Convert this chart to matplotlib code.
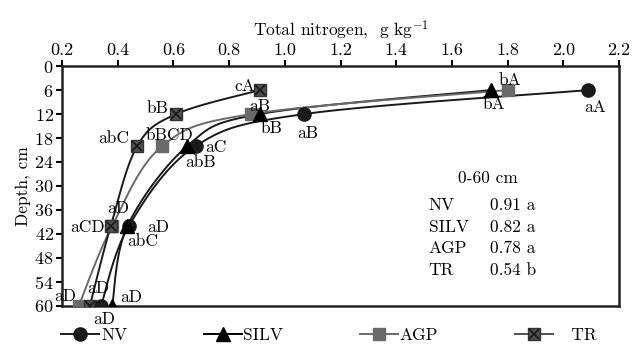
import matplotlib
matplotlib.use("Agg")
import matplotlib.pyplot as plt
import numpy as np

plt.rcParams['font.family'] = ['cmr10', 'DejaVu Serif']
plt.rcParams['mathtext.fontset'] = 'cm'
plt.rcParams['axes.formatter.use_mathtext'] = True

depth = [6, 12, 20, 40, 60]
nv = [2.09, 1.07, 0.68, 0.44, 0.34]
silv = [1.74, 0.91, 0.65, 0.435, 0.38]
agp = [1.80, 0.88, 0.56, 0.38, 0.26]
tr = [0.91, 0.61, 0.47, 0.375, 0.30]

nv_lab = ['aA', 'aB', 'aC', 'aD', 'aD']
silv_lab = ['bA', 'bB', 'abB', 'abC', 'aD']
agp_lab = ['bA', 'aB', 'bBCD', 'aCD', 'aD']
tr_lab = ['cA', 'bB', 'abC', 'aD', 'aD']

box_names = ['NV', 'SILV', 'AGP', 'TR']
box_vals = ['0.91 a', '0.82 a', '0.78 a', '0.54 b']

# label offsets in pixels (dx, dy), y up
nv_off = [(7, -17), (3, -19), (20, -1), (29, -1), (3, -13)]
silv_off = [(3, -14), (12, -14), (13, -16), (15, -15), (19, 9)]
agp_off = [(2, 10), (8, 8), (7, 11), (-25, -1), (-13, 10)]
tr_off = [(-15, 4), (-19, 6), (-23, 8), (7, 18), (8, 18)]


def smooth(x, y, n=30):
    # catmull-rom through points, in roughly pixel-scaled space
    sx, sy = 278.75, 4.0
    p = np.column_stack([np.asarray(x) * sx, np.asarray(y) * sy])
    p = np.vstack([p[0], p, p[-1]])
    out = []
    for i in range(1, len(p) - 2):
        p0, p1, p2, p3 = p[i - 1], p[i], p[i + 1], p[i + 2]
        t = np.linspace(0, 1, n)[:, None]
        c = 0.5 * (2 * p1 + (-p0 + p2) * t + (2 * p0 - 5 * p1 + 4 * p2 - p3) * t ** 2
                   + (-p0 + 3 * p1 - 3 * p2 + p3) * t ** 3)
        out.append(c)
    c = np.vstack(out)
    return c[:, 0] / sx, c[:, 1] / sy


fig = plt.figure(figsize=(6.33, 3.46), dpi=100)
ax = fig.add_axes([0.098, 0.116, 0.88, 0.693])

black = '#1a1a1a'
gray = '#6a6a6a'
dgray = '#505050'

for xs, col in [(nv, black), (silv, black), (agp, gray), (tr, black)]:
    sx, sy = smooth(xs, depth)
    ax.plot(sx, sy, color=col, lw=1.4, zorder=2)

ax.plot(nv, depth, 'o', color=black, ms=9.5, zorder=4)
ax.plot(silv, depth, '^', color='black', ms=9.5, zorder=4)
ax.plot(agp, depth, 's', color=gray, ms=8.5, zorder=3)
ax.plot(tr, depth, 's', color=dgray, mec='#333333', ms=9, zorder=3)
ax.plot(tr, depth, 'x', color=black, ms=7, mew=1.3, zorder=3)

for xs, labs, offs in [(nv, nv_lab, nv_off), (silv, silv_lab, silv_off),
                       (agp, agp_lab, agp_off), (tr, tr_lab, tr_off)]:
    for x, d, lab, (dx, dy) in zip(xs, depth, labs, offs):
        ax.annotate(lab, (x, d), xytext=(dx * 0.72, dy * 0.72), textcoords='offset points',
                    ha='center', va='center', fontsize=12.5, clip_on=False, zorder=5)

ax.set_xlim(0.2, 2.2)
ax.set_ylim(60, 0)
ax.set_xticks(np.arange(0.2, 2.21, 0.2))
ax.set_xticklabels(['%.1f' % v for v in np.arange(0.2, 2.21, 0.2)])
ax.set_yticks(range(0, 61, 6))
ax.xaxis.tick_top()
ax.xaxis.set_label_position('top')
ax.tick_params(labelsize=13, width=1.5, length=4, pad=2)
for s in ax.spines.values():
    s.set_linewidth(1.8)
    s.set_color('#222222')
ax.set_xlabel('Total nitrogen,  g kg$^{-1}$', fontsize=12.5, labelpad=5)
ax.set_ylabel('Depth, cm', fontsize=12.5, labelpad=2)

# summary text
ax.text(0.765, 0.53, '0-60 cm', transform=ax.transAxes, ha='center', va='center', fontsize=12.5)
for i, (n, v) in enumerate(zip(box_names, box_vals)):
    yy = 0.42 - i * 0.091
    ax.text(0.658, yy, n, transform=ax.transAxes, ha='left', va='center', fontsize=12.5)
    ax.text(0.769, yy, v, transform=ax.transAxes, ha='left', va='center', fontsize=12.5)

h1l = ax.plot([], [], 'o-', color=black, ms=9.5, lw=1.4)[0]
h2l = ax.plot([], [], '^-', color='black', ms=9.5, lw=1.4)[0]
h3l = ax.plot([], [], 's-', color=gray, ms=8.5, lw=1.4)[0]
h4l1 = ax.plot([], [], 's-', color=dgray, mec='#333333', ms=9, lw=1.4)[0]
h4l2 = ax.plot([], [], 'x', color=black, ms=7, mew=1.3)[0]
fig.legend([h1l, h2l, h3l, (h4l1, h4l2)], ['NV', 'SILV', 'AGP', '   TR'],
           loc='center', bbox_to_anchor=(0.52, 0.03), ncol=4, frameon=False,
           fontsize=12.5, handlelength=2.2, handletextpad=0.1, columnspacing=4.4)

fig.savefig('out.png', dpi=100)
